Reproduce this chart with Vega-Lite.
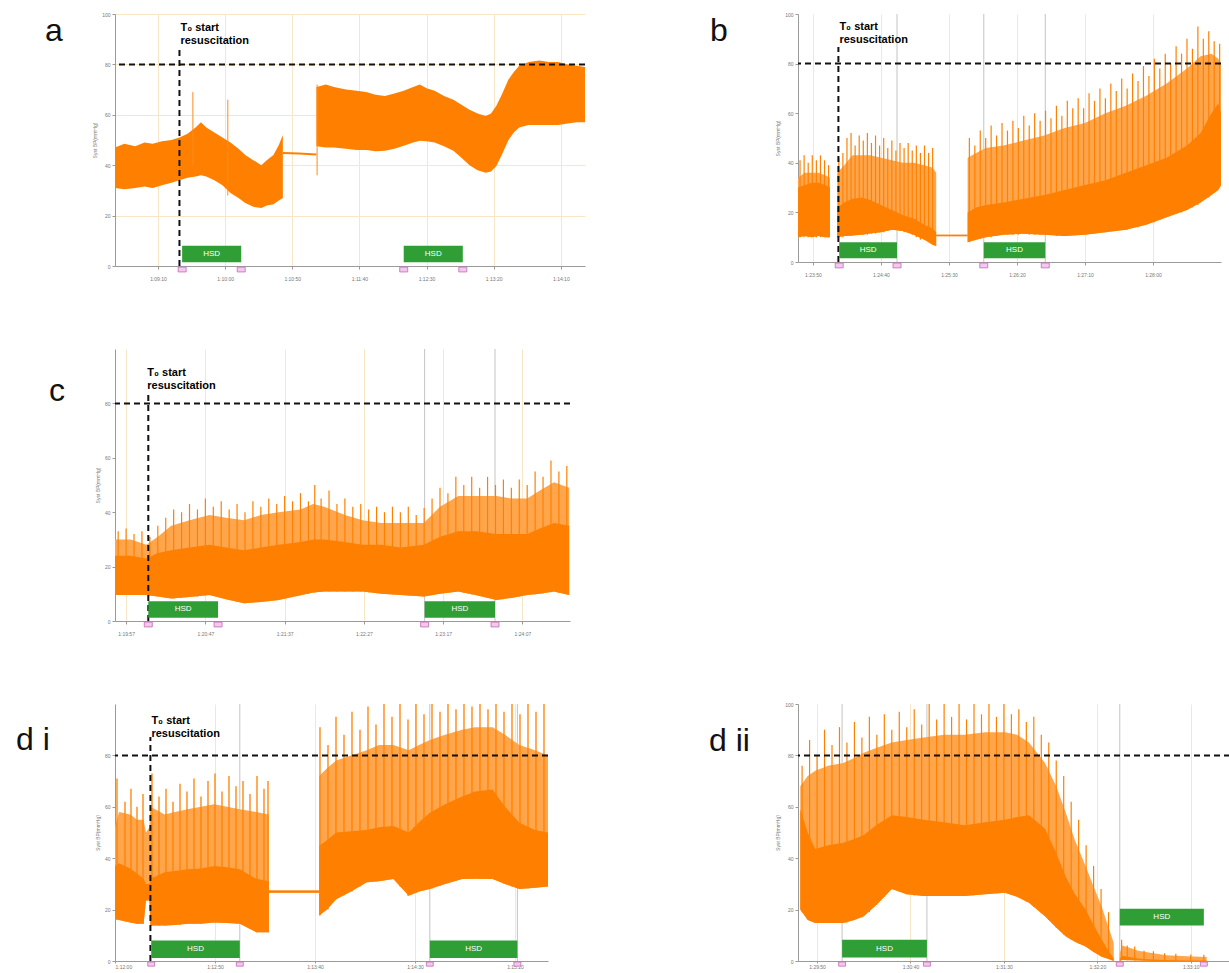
{
  "$schema": "https://vega.github.io/schema/vega-lite/v6.json",
  "background": "white",
  "padding": {"left": 16, "top": 12, "right": 0, "bottom": 0},
  "columns": 2,
  "spacing": {"row": 83, "column": 213},
  "align": "each",
  "bounds": "flush",
  "config": {
    "view": {"stroke": null},
    "font": "Liberation Sans",
    "axis": {
      "labelFont": "Liberation Sans", "labelFontSize": 5, "labelColor": "#777",
      "domainColor": "#9a9a9a", "tickColor": "#9a9a9a", "tickSize": 3,
      "gridColor": "#f9e6c6", "gridWidth": 1,
      "titleFont": "Liberation Sans", "titleFontSize": 5, "titleColor": "#777", "titleFontWeight": "normal"
    },
    "axisX": {"labelPadding": 7},
    "title": {"anchor": "start", "frame": "group", "orient": "top", "offset": 0,
      "fontSize": 32, "font": "Liberation Sans", "fontWeight": "normal", "color": "#111"}
  },
  "datasets": {
    "a_trace": [
      {"seg": "a1", "t": 4118, "lo": 31, "hi": 47},
      {"seg": "a1", "t": 4125, "lo": 30.5, "hi": 48.5},
      {"seg": "a1", "t": 4133, "lo": 31, "hi": 47.5},
      {"seg": "a1", "t": 4140, "lo": 31.5, "hi": 49},
      {"seg": "a1", "t": 4146, "lo": 31, "hi": 48.5},
      {"seg": "a1", "t": 4153, "lo": 32, "hi": 49.5},
      {"seg": "a1", "t": 4160, "lo": 33, "hi": 50},
      {"seg": "a1", "t": 4166, "lo": 34, "hi": 51},
      {"seg": "a1", "t": 4172, "lo": 35, "hi": 52.5},
      {"seg": "a1", "t": 4178, "lo": 35.5, "hi": 55},
      {"seg": "a1", "t": 4182, "lo": 36, "hi": 57},
      {"seg": "a1", "t": 4186, "lo": 35.5, "hi": 55},
      {"seg": "a1", "t": 4192, "lo": 34, "hi": 53},
      {"seg": "a1", "t": 4198, "lo": 32, "hi": 51},
      {"seg": "a1", "t": 4204, "lo": 29, "hi": 49},
      {"seg": "a1", "t": 4210, "lo": 27, "hi": 46.5},
      {"seg": "a1", "t": 4215, "lo": 25, "hi": 44},
      {"seg": "a1", "t": 4221, "lo": 23.5, "hi": 42},
      {"seg": "a1", "t": 4227, "lo": 23, "hi": 40},
      {"seg": "a1", "t": 4231, "lo": 24, "hi": 42},
      {"seg": "a1", "t": 4236, "lo": 24.5, "hi": 44},
      {"seg": "a1", "t": 4240, "lo": 26, "hi": 48},
      {"seg": "a1", "t": 4243, "lo": 27, "hi": 52},
      {"seg": "a2", "t": 4243, "lo": 44.4, "hi": 45.2},
      {"seg": "a2", "t": 4255, "lo": 44.2, "hi": 45},
      {"seg": "a2", "t": 4268, "lo": 43.8, "hi": 44.6},
      {"seg": "a3", "t": 4268, "lo": 47.5, "hi": 71},
      {"seg": "a3", "t": 4275, "lo": 47, "hi": 72},
      {"seg": "a3", "t": 4281, "lo": 47, "hi": 71},
      {"seg": "a3", "t": 4290, "lo": 46.5, "hi": 70},
      {"seg": "a3", "t": 4298, "lo": 46, "hi": 69.5},
      {"seg": "a3", "t": 4305, "lo": 46, "hi": 69},
      {"seg": "a3", "t": 4312, "lo": 45.5, "hi": 68},
      {"seg": "a3", "t": 4319, "lo": 45.7, "hi": 67.5},
      {"seg": "a3", "t": 4326, "lo": 46.5, "hi": 68.5},
      {"seg": "a3", "t": 4333, "lo": 47.7, "hi": 69.5},
      {"seg": "a3", "t": 4340, "lo": 49, "hi": 71},
      {"seg": "a3", "t": 4345, "lo": 49.7, "hi": 72},
      {"seg": "a3", "t": 4350, "lo": 49.5, "hi": 70.5},
      {"seg": "a3", "t": 4356, "lo": 49, "hi": 69.5},
      {"seg": "a3", "t": 4363, "lo": 47.5, "hi": 67.5},
      {"seg": "a3", "t": 4370, "lo": 45.7, "hi": 66},
      {"seg": "a3", "t": 4376, "lo": 43, "hi": 64},
      {"seg": "a3", "t": 4382, "lo": 40, "hi": 62},
      {"seg": "a3", "t": 4388, "lo": 38, "hi": 60.5},
      {"seg": "a3", "t": 4394, "lo": 37, "hi": 59.5},
      {"seg": "a3", "t": 4398, "lo": 37.5, "hi": 60.5},
      {"seg": "a3", "t": 4402, "lo": 39.7, "hi": 63.6},
      {"seg": "a3", "t": 4406, "lo": 44, "hi": 68},
      {"seg": "a3", "t": 4411, "lo": 50, "hi": 74},
      {"seg": "a3", "t": 4415, "lo": 53, "hi": 77},
      {"seg": "a3", "t": 4419, "lo": 55, "hi": 79.5},
      {"seg": "a3", "t": 4426, "lo": 56, "hi": 81},
      {"seg": "a3", "t": 4434, "lo": 56, "hi": 81.5},
      {"seg": "a3", "t": 4441, "lo": 56, "hi": 81},
      {"seg": "a3", "t": 4448, "lo": 56, "hi": 81},
      {"seg": "a3", "t": 4455, "lo": 56.5, "hi": 80},
      {"seg": "a3", "t": 4462, "lo": 57, "hi": 79.5},
      {"seg": "a3", "t": 4468, "lo": 57, "hi": 79}
    ],
    "a_spikes": [
      {"t": 4176, "lo": 40, "hi": 69},
      {"t": 4202, "lo": 28, "hi": 66},
      {"t": 4268.5, "lo": 36, "hi": 72}
    ],
    "a_hsd": [
      {"start": 4168, "end": 4212, "label": "HSD"},
      {"start": 4333, "end": 4377, "label": "HSD"}
    ],
    "b_trace": [
      {"seg": "b1", "t": 5019, "lo": 10, "core": 30, "hi": 34},
      {"seg": "b1", "t": 5024, "lo": 10.5, "core": 31, "hi": 36},
      {"seg": "b1", "t": 5029, "lo": 10, "core": 32, "hi": 36},
      {"seg": "b1", "t": 5034, "lo": 10.5, "core": 32, "hi": 36},
      {"seg": "b1", "t": 5039, "lo": 10, "core": 31, "hi": 35},
      {"seg": "b1", "t": 5042.5, "lo": 10, "core": 30, "hi": 34},
      {"seg": "b2", "t": 5047.8, "lo": 10, "core": 22, "hi": 36},
      {"seg": "b2", "t": 5053, "lo": 10.5, "core": 24, "hi": 39},
      {"seg": "b2", "t": 5059, "lo": 10.7, "core": 25.5, "hi": 43},
      {"seg": "b2", "t": 5066, "lo": 11, "core": 26, "hi": 43},
      {"seg": "b2", "t": 5072, "lo": 11.5, "core": 25, "hi": 43},
      {"seg": "b2", "t": 5080, "lo": 12, "core": 23, "hi": 42},
      {"seg": "b2", "t": 5088, "lo": 13, "core": 21, "hi": 41},
      {"seg": "b2", "t": 5096, "lo": 12.5, "core": 19, "hi": 40},
      {"seg": "b2", "t": 5104, "lo": 11, "core": 17.5, "hi": 40},
      {"seg": "b2", "t": 5112, "lo": 9, "core": 15, "hi": 39},
      {"seg": "b2", "t": 5118, "lo": 7, "core": 13.5, "hi": 38},
      {"seg": "b2", "t": 5120.6, "lo": 6.5, "core": 12, "hi": 36},
      {"seg": "b3", "t": 5120.6, "lo": 10.4, "core": 11, "hi": 11},
      {"seg": "b3", "t": 5143.7, "lo": 10.4, "core": 11, "hi": 11},
      {"seg": "b4", "t": 5143.7, "lo": 8, "core": 20, "hi": 42},
      {"seg": "b4", "t": 5150, "lo": 9, "core": 22, "hi": 44},
      {"seg": "b4", "t": 5157, "lo": 10, "core": 23, "hi": 46},
      {"seg": "b4", "t": 5170, "lo": 11, "core": 24, "hi": 47},
      {"seg": "b4", "t": 5185, "lo": 11.4, "core": 25.5, "hi": 49},
      {"seg": "b4", "t": 5200, "lo": 11, "core": 27, "hi": 51},
      {"seg": "b4", "t": 5215, "lo": 10.5, "core": 29, "hi": 54},
      {"seg": "b4", "t": 5230, "lo": 11, "core": 31, "hi": 56},
      {"seg": "b4", "t": 5245, "lo": 12, "core": 33, "hi": 60},
      {"seg": "b4", "t": 5260, "lo": 13, "core": 36, "hi": 63},
      {"seg": "b4", "t": 5275, "lo": 15, "core": 39, "hi": 67},
      {"seg": "b4", "t": 5290, "lo": 18, "core": 42, "hi": 72},
      {"seg": "b4", "t": 5305, "lo": 21, "core": 47, "hi": 78},
      {"seg": "b4", "t": 5315, "lo": 24, "core": 52, "hi": 83},
      {"seg": "b4", "t": 5323, "lo": 27, "core": 60, "hi": 84},
      {"seg": "b4", "t": 5328, "lo": 29, "core": 64, "hi": 82},
      {"seg": "b4", "t": 5330, "lo": 31, "core": 60, "hi": 80}
    ],
    "b_spikes": [
      {"t": 5020.5, "lo": 10, "hi": 41}, {"t": 5023.5, "lo": 10, "hi": 43}, {"t": 5026.5, "lo": 10, "hi": 40},
      {"t": 5029.5, "lo": 10, "hi": 43}, {"t": 5032.5, "lo": 10, "hi": 41}, {"t": 5035.5, "lo": 10, "hi": 43},
      {"t": 5038.5, "lo": 10, "hi": 41}, {"t": 5041.5, "lo": 10, "hi": 39},
      {"t": 5049, "lo": 10, "hi": 42}, {"t": 5052, "lo": 10, "hi": 44}, {"t": 5055, "lo": 10.5, "hi": 50},
      {"t": 5058, "lo": 10.5, "hi": 52}, {"t": 5061, "lo": 11, "hi": 47}, {"t": 5064, "lo": 11, "hi": 51},
      {"t": 5067, "lo": 11, "hi": 49}, {"t": 5070, "lo": 11, "hi": 52}, {"t": 5073, "lo": 11.5, "hi": 48},
      {"t": 5076, "lo": 11.5, "hi": 51}, {"t": 5079, "lo": 12, "hi": 47}, {"t": 5082, "lo": 12, "hi": 50},
      {"t": 5085, "lo": 12.5, "hi": 46}, {"t": 5088, "lo": 13, "hi": 49}, {"t": 5091, "lo": 13, "hi": 45},
      {"t": 5094, "lo": 12.5, "hi": 48}, {"t": 5097, "lo": 12, "hi": 46}, {"t": 5100, "lo": 12, "hi": 48},
      {"t": 5103, "lo": 11, "hi": 45}, {"t": 5106, "lo": 10, "hi": 47}, {"t": 5109, "lo": 9, "hi": 44},
      {"t": 5112, "lo": 9, "hi": 47}, {"t": 5115, "lo": 8, "hi": 44}, {"t": 5118, "lo": 7, "hi": 46},
      {"t": 5145, "lo": 8, "hi": 50}, {"t": 5149, "lo": 9, "hi": 47}, {"t": 5153, "lo": 9.5, "hi": 53},
      {"t": 5157, "lo": 10, "hi": 50}, {"t": 5161, "lo": 10, "hi": 55}, {"t": 5165, "lo": 10.5, "hi": 51},
      {"t": 5169, "lo": 11, "hi": 56}, {"t": 5173, "lo": 11, "hi": 53}, {"t": 5177, "lo": 11, "hi": 57},
      {"t": 5181, "lo": 11, "hi": 54}, {"t": 5185, "lo": 11.4, "hi": 59}, {"t": 5189, "lo": 11, "hi": 55},
      {"t": 5193, "lo": 11, "hi": 60}, {"t": 5197, "lo": 11, "hi": 57}, {"t": 5201, "lo": 11, "hi": 61},
      {"t": 5205, "lo": 11, "hi": 58}, {"t": 5209, "lo": 10.5, "hi": 63}, {"t": 5213, "lo": 10.5, "hi": 59},
      {"t": 5217, "lo": 10.5, "hi": 65}, {"t": 5221, "lo": 11, "hi": 62}, {"t": 5225, "lo": 11, "hi": 66},
      {"t": 5229, "lo": 11, "hi": 62}, {"t": 5233, "lo": 11.5, "hi": 68}, {"t": 5237, "lo": 11.5, "hi": 65},
      {"t": 5241, "lo": 12, "hi": 70}, {"t": 5245, "lo": 12, "hi": 66}, {"t": 5249, "lo": 12.5, "hi": 72},
      {"t": 5253, "lo": 12.5, "hi": 69}, {"t": 5257, "lo": 13, "hi": 74}, {"t": 5261, "lo": 13, "hi": 70},
      {"t": 5265, "lo": 14, "hi": 76}, {"t": 5269, "lo": 14, "hi": 73}, {"t": 5273, "lo": 15, "hi": 79},
      {"t": 5277, "lo": 15.5, "hi": 75}, {"t": 5281, "lo": 16, "hi": 82}, {"t": 5285, "lo": 17, "hi": 78},
      {"t": 5289, "lo": 18, "hi": 84}, {"t": 5293, "lo": 19, "hi": 80}, {"t": 5297, "lo": 20, "hi": 87},
      {"t": 5301, "lo": 20, "hi": 84}, {"t": 5305, "lo": 21, "hi": 90}, {"t": 5309, "lo": 22, "hi": 86},
      {"t": 5313, "lo": 23, "hi": 95}, {"t": 5317, "lo": 25, "hi": 90}, {"t": 5321, "lo": 26, "hi": 93},
      {"t": 5325, "lo": 28, "hi": 89}, {"t": 5329, "lo": 30, "hi": 88}
    ],
    "b_hsd": [
      {"start": 5049.3, "end": 5091.8, "label": "HSD"},
      {"start": 5155.6, "end": 5200.8, "label": "HSD"}
    ],
    "c_trace": [
      {"seg": "c1", "t": 4790, "lo": 9.6, "core": 24, "hi": 30},
      {"seg": "c1", "t": 4800, "lo": 9.6, "core": 24, "hi": 30},
      {"seg": "c1", "t": 4809.8, "lo": 9.6, "core": 23, "hi": 28},
      {"seg": "c1", "t": 4817, "lo": 9, "core": 25, "hi": 31},
      {"seg": "c1", "t": 4825.5, "lo": 8.3, "core": 26, "hi": 35},
      {"seg": "c1", "t": 4837, "lo": 8.8, "core": 27, "hi": 37},
      {"seg": "c1", "t": 4849.6, "lo": 9.6, "core": 28, "hi": 39},
      {"seg": "c1", "t": 4860, "lo": 8, "core": 27, "hi": 38},
      {"seg": "c1", "t": 4871.4, "lo": 6.5, "core": 26, "hi": 37},
      {"seg": "c1", "t": 4882, "lo": 7, "core": 27, "hi": 39},
      {"seg": "c1", "t": 4893.1, "lo": 7.7, "core": 28, "hi": 40},
      {"seg": "c1", "t": 4907, "lo": 9.5, "core": 29, "hi": 41},
      {"seg": "c1", "t": 4915, "lo": 10.5, "core": 30, "hi": 43},
      {"seg": "c1", "t": 4922, "lo": 10.8, "core": 30, "hi": 42},
      {"seg": "c1", "t": 4935, "lo": 10.8, "core": 29, "hi": 39},
      {"seg": "c1", "t": 4946.2, "lo": 10.8, "core": 28, "hi": 37},
      {"seg": "c1", "t": 4958, "lo": 10, "core": 28, "hi": 36},
      {"seg": "c1", "t": 4970.3, "lo": 9.6, "core": 27, "hi": 36},
      {"seg": "c1", "t": 4984.8, "lo": 9, "core": 28, "hi": 36},
      {"seg": "c1", "t": 4995, "lo": 10, "core": 31, "hi": 42},
      {"seg": "c1", "t": 5006.5, "lo": 10.8, "core": 33, "hi": 46},
      {"seg": "c1", "t": 5018, "lo": 9.5, "core": 33, "hi": 46},
      {"seg": "c1", "t": 5030.7, "lo": 7.7, "core": 32, "hi": 46},
      {"seg": "c1", "t": 5040, "lo": 8.5, "core": 32, "hi": 45},
      {"seg": "c1", "t": 5050, "lo": 9.6, "core": 32, "hi": 45},
      {"seg": "c1", "t": 5058, "lo": 10, "core": 34, "hi": 48},
      {"seg": "c1", "t": 5066.9, "lo": 10.8, "core": 36, "hi": 51},
      {"seg": "c1", "t": 5076.5, "lo": 9.6, "core": 35, "hi": 49}
    ],
    "c_spikes": [
      {"t": 4792, "lo": 9.6, "hi": 33}, {"t": 4797, "lo": 9.6, "hi": 34}, {"t": 4802, "lo": 9.6, "hi": 32},
      {"t": 4807, "lo": 9.6, "hi": 33}, {"t": 4812, "lo": 9.4, "hi": 31}, {"t": 4817, "lo": 9, "hi": 35},
      {"t": 4822, "lo": 8.6, "hi": 38}, {"t": 4827, "lo": 8.3, "hi": 41}, {"t": 4832, "lo": 8.5, "hi": 40},
      {"t": 4837, "lo": 8.8, "hi": 43}, {"t": 4842, "lo": 9, "hi": 41}, {"t": 4847, "lo": 9.4, "hi": 45},
      {"t": 4852, "lo": 9.3, "hi": 42}, {"t": 4857, "lo": 8.5, "hi": 44}, {"t": 4862, "lo": 7.8, "hi": 41},
      {"t": 4867, "lo": 7, "hi": 43}, {"t": 4872, "lo": 6.5, "hi": 40}, {"t": 4877, "lo": 6.8, "hi": 44},
      {"t": 4882, "lo": 7, "hi": 42}, {"t": 4887, "lo": 7.3, "hi": 45}, {"t": 4892, "lo": 7.6, "hi": 43},
      {"t": 4897, "lo": 8.2, "hi": 46}, {"t": 4902, "lo": 8.8, "hi": 44}, {"t": 4907, "lo": 9.5, "hi": 47},
      {"t": 4912, "lo": 10, "hi": 44}, {"t": 4916, "lo": 10.5, "hi": 50}, {"t": 4920, "lo": 10.7, "hi": 45},
      {"t": 4925, "lo": 10.8, "hi": 48}, {"t": 4930, "lo": 10.8, "hi": 43}, {"t": 4935, "lo": 10.8, "hi": 45},
      {"t": 4940, "lo": 10.8, "hi": 42}, {"t": 4945, "lo": 10.8, "hi": 43}, {"t": 4950, "lo": 10.6, "hi": 41},
      {"t": 4955, "lo": 10.3, "hi": 42}, {"t": 4960, "lo": 10, "hi": 40}, {"t": 4965, "lo": 9.8, "hi": 42},
      {"t": 4970, "lo": 9.6, "hi": 40}, {"t": 4975, "lo": 9.4, "hi": 42}, {"t": 4980, "lo": 9.2, "hi": 39},
      {"t": 4985, "lo": 9, "hi": 41.5}, {"t": 4990, "lo": 9.5, "hi": 45}, {"t": 4995, "lo": 10, "hi": 49},
      {"t": 5000, "lo": 10.4, "hi": 47}, {"t": 5005, "lo": 10.8, "hi": 53}, {"t": 5010, "lo": 10.4, "hi": 50},
      {"t": 5015, "lo": 9.8, "hi": 53}, {"t": 5020, "lo": 9.2, "hi": 49}, {"t": 5025, "lo": 8.5, "hi": 53},
      {"t": 5030, "lo": 7.8, "hi": 50}, {"t": 5035, "lo": 8, "hi": 52}, {"t": 5040, "lo": 8.5, "hi": 49},
      {"t": 5045, "lo": 9, "hi": 52}, {"t": 5050, "lo": 9.6, "hi": 50}, {"t": 5055, "lo": 9.8, "hi": 55},
      {"t": 5060, "lo": 10.2, "hi": 53}, {"t": 5065, "lo": 10.6, "hi": 59}, {"t": 5070, "lo": 10.3, "hi": 55},
      {"t": 5075, "lo": 9.8, "hi": 57}
    ],
    "c_hsd": [
      {"start": 4811, "end": 4855, "label": "HSD"},
      {"start": 4985.3, "end": 5029.7, "label": "HSD"}
    ],
    "di_trace": [
      {"seg": "d1", "t": 4320, "lo": 16.4, "core": 37, "hi": 52},
      {"seg": "d1", "t": 4322, "lo": 16, "core": 38, "hi": 58},
      {"seg": "d1", "t": 4327.6, "lo": 15, "core": 36, "hi": 57},
      {"seg": "d1", "t": 4331, "lo": 14.5, "core": 34, "hi": 55},
      {"seg": "d1", "t": 4334.3, "lo": 14.5, "core": 32, "hi": 55},
      {"seg": "d1", "t": 4335.5, "lo": 23.5, "core": 30, "hi": 50},
      {"seg": "d1", "t": 4337.2, "lo": 23.5, "core": 30, "hi": 52},
      {"seg": "d1", "t": 4337.7, "lo": 13.8, "core": 32, "hi": 60},
      {"seg": "d1", "t": 4344.8, "lo": 13.8, "core": 34.5, "hi": 57},
      {"seg": "d1", "t": 4350, "lo": 14, "core": 35, "hi": 58},
      {"seg": "d1", "t": 4356.2, "lo": 14.5, "core": 35.7, "hi": 59},
      {"seg": "d1", "t": 4363, "lo": 14.5, "core": 36, "hi": 60},
      {"seg": "d1", "t": 4369.6, "lo": 15, "core": 37, "hi": 61},
      {"seg": "d1", "t": 4376, "lo": 14.8, "core": 36.5, "hi": 60},
      {"seg": "d1", "t": 4382.4, "lo": 14.5, "core": 35.7, "hi": 59},
      {"seg": "d1", "t": 4390.6, "lo": 11.2, "core": 32, "hi": 58},
      {"seg": "d1", "t": 4396.9, "lo": 11.2, "core": 31, "hi": 57},
      {"seg": "d2", "t": 4396.9, "lo": 26.6, "core": 27.4, "hi": 27.4},
      {"seg": "d2", "t": 4422.1, "lo": 26.6, "core": 27.4, "hi": 27.4},
      {"seg": "d3", "t": 4422.1, "lo": 17.7, "core": 44.8, "hi": 72},
      {"seg": "d3", "t": 4426, "lo": 20, "core": 47, "hi": 75},
      {"seg": "d3", "t": 4430.6, "lo": 24, "core": 50, "hi": 78},
      {"seg": "d3", "t": 4438, "lo": 27, "core": 50.5, "hi": 80},
      {"seg": "d3", "t": 4445.9, "lo": 30.6, "core": 51, "hi": 82},
      {"seg": "d3", "t": 4452, "lo": 31, "core": 52, "hi": 84},
      {"seg": "d3", "t": 4459.2, "lo": 31.9, "core": 52.5, "hi": 84},
      {"seg": "d3", "t": 4466.9, "lo": 25.4, "core": 50, "hi": 82},
      {"seg": "d3", "t": 4472, "lo": 27, "core": 54, "hi": 84},
      {"seg": "d3", "t": 4477.4, "lo": 28, "core": 57.7, "hi": 86},
      {"seg": "d3", "t": 4485, "lo": 30, "core": 61, "hi": 88},
      {"seg": "d3", "t": 4493.6, "lo": 31.9, "core": 64, "hi": 90},
      {"seg": "d3", "t": 4500, "lo": 32, "core": 66, "hi": 91},
      {"seg": "d3", "t": 4508.8, "lo": 31.9, "core": 66.7, "hi": 91},
      {"seg": "d3", "t": 4515, "lo": 30, "core": 60, "hi": 88},
      {"seg": "d3", "t": 4522.2, "lo": 28, "core": 53.8, "hi": 84},
      {"seg": "d3", "t": 4530, "lo": 28.5, "core": 51, "hi": 82},
      {"seg": "d3", "t": 4536.5, "lo": 29, "core": 50, "hi": 80}
    ],
    "di_spikes": [
      {"t": 4321, "lo": 16, "hi": 71}, {"t": 4325, "lo": 15.5, "hi": 62}, {"t": 4328, "lo": 15, "hi": 67},
      {"t": 4331, "lo": 14.5, "hi": 60}, {"t": 4334, "lo": 14.5, "hi": 65}, {"t": 4338.5, "lo": 13.8, "hi": 73},
      {"t": 4342, "lo": 13.8, "hi": 64}, {"t": 4345.5, "lo": 13.8, "hi": 67}, {"t": 4349, "lo": 14, "hi": 62},
      {"t": 4352.5, "lo": 14, "hi": 69}, {"t": 4356, "lo": 14.5, "hi": 66}, {"t": 4359.5, "lo": 14.5, "hi": 71},
      {"t": 4363, "lo": 14.5, "hi": 64}, {"t": 4366.5, "lo": 14.8, "hi": 70}, {"t": 4370, "lo": 15, "hi": 73},
      {"t": 4373.5, "lo": 15, "hi": 66}, {"t": 4377, "lo": 14.8, "hi": 72}, {"t": 4380.5, "lo": 14.6, "hi": 68},
      {"t": 4384, "lo": 14, "hi": 70}, {"t": 4387.5, "lo": 12.5, "hi": 65}, {"t": 4391, "lo": 11.2, "hi": 72},
      {"t": 4394.5, "lo": 11.2, "hi": 67}, {"t": 4396.5, "lo": 11.2, "hi": 70},
      {"t": 4422.5, "lo": 17.7, "hi": 91}, {"t": 4426.5, "lo": 20, "hi": 84}, {"t": 4430.5, "lo": 24, "hi": 95},
      {"t": 4434.5, "lo": 25.5, "hi": 88}, {"t": 4438.5, "lo": 27, "hi": 97}, {"t": 4442.5, "lo": 29, "hi": 90},
      {"t": 4446.5, "lo": 30.6, "hi": 99}, {"t": 4450.5, "lo": 31, "hi": 92}, {"t": 4454.5, "lo": 31.5, "hi": 100},
      {"t": 4458.5, "lo": 31.9, "hi": 95}, {"t": 4462.5, "lo": 29, "hi": 100}, {"t": 4466.5, "lo": 25.4, "hi": 94},
      {"t": 4470.5, "lo": 26.5, "hi": 100}, {"t": 4474.5, "lo": 27.5, "hi": 96}, {"t": 4478.5, "lo": 28.2, "hi": 100},
      {"t": 4482.5, "lo": 29.3, "hi": 97}, {"t": 4486.5, "lo": 30.3, "hi": 100}, {"t": 4490.5, "lo": 31.2, "hi": 98},
      {"t": 4494.5, "lo": 31.9, "hi": 100}, {"t": 4498.5, "lo": 32, "hi": 99}, {"t": 4502.5, "lo": 32, "hi": 100},
      {"t": 4506.5, "lo": 32, "hi": 98}, {"t": 4510.5, "lo": 31.5, "hi": 100}, {"t": 4514.5, "lo": 30.2, "hi": 97},
      {"t": 4518.5, "lo": 29, "hi": 100}, {"t": 4522.5, "lo": 28, "hi": 96}, {"t": 4526.5, "lo": 28.2, "hi": 100},
      {"t": 4530.5, "lo": 28.5, "hi": 97}, {"t": 4534.5, "lo": 28.8, "hi": 100}
    ],
    "di_hsd": [
      {"start": 4338.1, "end": 4382.4, "label": "HSD"},
      {"start": 4477.4, "end": 4521.2, "label": "HSD"}
    ],
    "dii_trace": [
      {"seg": "e1", "t": 5381, "lo": 20, "core": 59, "hi": 68},
      {"seg": "e1", "t": 5385, "lo": 16, "core": 50, "hi": 72},
      {"seg": "e1", "t": 5389, "lo": 14.8, "core": 43.6, "hi": 74},
      {"seg": "e1", "t": 5396, "lo": 14.8, "core": 45, "hi": 76},
      {"seg": "e1", "t": 5404, "lo": 14.8, "core": 46, "hi": 77},
      {"seg": "e1", "t": 5410, "lo": 16, "core": 47.5, "hi": 79},
      {"seg": "e1", "t": 5415, "lo": 17.4, "core": 49, "hi": 81},
      {"seg": "e1", "t": 5422, "lo": 22, "core": 53, "hi": 83},
      {"seg": "e1", "t": 5430, "lo": 28, "core": 56.7, "hi": 85},
      {"seg": "e1", "t": 5438, "lo": 26, "core": 56, "hi": 86},
      {"seg": "e1", "t": 5447, "lo": 25.3, "core": 55, "hi": 87},
      {"seg": "e1", "t": 5458, "lo": 25.3, "core": 54, "hi": 88},
      {"seg": "e1", "t": 5469, "lo": 25.3, "core": 52.8, "hi": 88},
      {"seg": "e1", "t": 5480, "lo": 26, "core": 54, "hi": 89},
      {"seg": "e1", "t": 5490.5, "lo": 26.6, "core": 55, "hi": 89},
      {"seg": "e1", "t": 5497, "lo": 25, "core": 56, "hi": 88},
      {"seg": "e1", "t": 5503.4, "lo": 22.7, "core": 56.7, "hi": 85},
      {"seg": "e1", "t": 5512, "lo": 17.4, "core": 51.5, "hi": 77},
      {"seg": "e1", "t": 5518, "lo": 13, "core": 42, "hi": 68},
      {"seg": "e1", "t": 5523, "lo": 9.6, "core": 33, "hi": 58},
      {"seg": "e1", "t": 5528, "lo": 7.5, "core": 26, "hi": 47},
      {"seg": "e1", "t": 5533.7, "lo": 5.6, "core": 20, "hi": 37},
      {"seg": "e1", "t": 5538, "lo": 3.5, "core": 14, "hi": 29},
      {"seg": "e1", "t": 5542.4, "lo": 1.7, "core": 8.3, "hi": 21},
      {"seg": "e1", "t": 5546, "lo": 0.8, "core": 4, "hi": 13},
      {"seg": "e1", "t": 5548.8, "lo": 0, "core": 1, "hi": 7},
      {"seg": "e2", "t": 5552, "lo": 0, "core": 1, "hi": 3},
      {"seg": "e2", "t": 5553.2, "lo": 0.4, "core": 2, "hi": 6},
      {"seg": "e2", "t": 5558, "lo": 0.3, "core": 1.5, "hi": 5},
      {"seg": "e2", "t": 5561.8, "lo": 0.2, "core": 1, "hi": 4},
      {"seg": "e2", "t": 5570, "lo": 0, "core": 0.6, "hi": 3},
      {"seg": "e2", "t": 5576.9, "lo": 0, "core": 0.4, "hi": 2.2},
      {"seg": "e2", "t": 5588, "lo": 0, "core": 0.2, "hi": 1.8},
      {"seg": "e2", "t": 5598.5, "lo": 0, "core": 0.2, "hi": 1.6}
    ],
    "dii_spikes": [
      {"t": 5382, "lo": 19, "hi": 76}, {"t": 5386, "lo": 16, "hi": 86}, {"t": 5390, "lo": 14.8, "hi": 80},
      {"t": 5394, "lo": 14.8, "hi": 90}, {"t": 5398, "lo": 14.8, "hi": 84}, {"t": 5402, "lo": 14.8, "hi": 91},
      {"t": 5406, "lo": 15, "hi": 85}, {"t": 5410, "lo": 16, "hi": 93}, {"t": 5414, "lo": 17, "hi": 87},
      {"t": 5418, "lo": 19, "hi": 95}, {"t": 5422, "lo": 22, "hi": 88}, {"t": 5426, "lo": 25, "hi": 96},
      {"t": 5430, "lo": 28, "hi": 90}, {"t": 5434, "lo": 27, "hi": 97}, {"t": 5438, "lo": 26, "hi": 91},
      {"t": 5442, "lo": 25.5, "hi": 98}, {"t": 5446, "lo": 25.3, "hi": 92}, {"t": 5450, "lo": 25.3, "hi": 100},
      {"t": 5454, "lo": 25.3, "hi": 94}, {"t": 5458, "lo": 25.3, "hi": 100}, {"t": 5462, "lo": 25.3, "hi": 95},
      {"t": 5466, "lo": 25.3, "hi": 100}, {"t": 5470, "lo": 25.3, "hi": 94}, {"t": 5474, "lo": 25.6, "hi": 100},
      {"t": 5478, "lo": 25.9, "hi": 96}, {"t": 5482, "lo": 26.2, "hi": 100}, {"t": 5486, "lo": 26.4, "hi": 95},
      {"t": 5490, "lo": 26.6, "hi": 100}, {"t": 5494, "lo": 25.8, "hi": 96}, {"t": 5498, "lo": 24.8, "hi": 98},
      {"t": 5502, "lo": 23.2, "hi": 93}, {"t": 5506, "lo": 21, "hi": 95}, {"t": 5510, "lo": 18.6, "hi": 88},
      {"t": 5514, "lo": 16, "hi": 85}, {"t": 5518, "lo": 13, "hi": 78}, {"t": 5522, "lo": 10.3, "hi": 72},
      {"t": 5526, "lo": 8.4, "hi": 62}, {"t": 5530, "lo": 6.8, "hi": 55}, {"t": 5534, "lo": 5.5, "hi": 45},
      {"t": 5538, "lo": 3.5, "hi": 37}, {"t": 5542, "lo": 1.8, "hi": 28}, {"t": 5546, "lo": 0.8, "hi": 19},
      {"t": 5553, "lo": 0.4, "hi": 8.3}, {"t": 5556, "lo": 0.3, "hi": 6}, {"t": 5560, "lo": 0.2, "hi": 5.6},
      {"t": 5565, "lo": 0.1, "hi": 4}, {"t": 5570, "lo": 0, "hi": 3.8}, {"t": 5576, "lo": 0, "hi": 3},
      {"t": 5582, "lo": 0, "hi": 2.8}, {"t": 5590, "lo": 0, "hi": 2.5}, {"t": 5597, "lo": 0, "hi": 2.4}
    ],
    "dii_hsd": [
      {"start": 5403.4, "end": 5448.8, "label": "HSD", "n": 1},
      {"start": 5552, "end": 5597, "label": "HSD", "n": 2}
    ]
  },
  "concat": [
    {
      "width": 470, "height": 252,
      "title": {"text": "a", "dx": -70, "dy": 40},
      "layer": [
        {"data": {"name": "a_trace"}, "mark": {"type": "area", "color": "#ff8000"},
          "encoding": {
            "x": {"field": "t", "type": "quantitative", "scale": {"domain": [4118, 4468], "nice": false, "zero": false},
              "axis": {"title": null, "values": [4150, 4200, 4250, 4300, 4350, 4400, 4450], "labelExpr": "utcFormat(datum.value*1000, '%-H:%M:%S')"}},
            "y": {"field": "lo", "type": "quantitative", "scale": {"domain": [0, 100], "nice": false},
              "axis": {"title": "Syst BP(mmHg)", "values": [0, 20, 40, 60, 80, 100]}},
            "y2": {"field": "hi"}, "detail": {"field": "seg"}}},
        {"data": {"name": "a_spikes"}, "mark": {"type": "rule", "color": "#ff8a1a", "strokeWidth": 1},
          "encoding": {"x": {"field": "t", "type": "quantitative"}, "y": {"field": "lo", "type": "quantitative"}, "y2": {"field": "hi"}}},
        {"data": {"values": [{}]}, "mark": {"type": "rule", "strokeDash": [6, 4], "strokeWidth": 2, "color": "#111"},
          "encoding": {"y": {"datum": 80}}},
        {"data": {"values": [{}]}, "mark": {"type": "rule", "strokeDash": [6, 4], "strokeWidth": 2, "color": "#111"},
          "encoding": {"x": {"datum": 4166}, "y": {"datum": 0}, "y2": {"datum": 87}}},
        {"data": {"values": [{"note": "T₀ start\nresuscitation"}]},
          "mark": {"type": "text", "align": "left", "baseline": "top", "fontSize": 11, "fontWeight": "bold", "lineBreak": "\n", "lineHeight": 13, "dx": 1, "color": "#000"},
          "encoding": {"x": {"datum": 4166}, "y": {"datum": 97}, "text": {"field": "note"}}},
        {"data": {"name": "a_hsd"}, "mark": {"type": "rect", "color": "#2f9e35"},
          "encoding": {"x": {"field": "start", "type": "quantitative"}, "x2": {"field": "end"}, "y": {"datum": 1.5}, "y2": {"datum": 8}}},
        {"data": {"name": "a_hsd"}, "transform": [{"calculate": "(datum.start + datum.end) / 2", "as": "mid"}],
          "mark": {"type": "text", "color": "white", "fontSize": 8},
          "encoding": {"x": {"field": "mid", "type": "quantitative"}, "y": {"datum": 4.75}, "text": {"field": "label"}}},
        {"data": {"name": "a_hsd"}, "transform": [{"fold": ["start", "end"], "as": ["edge", "tm"]}],
          "mark": {"type": "point", "shape": "M-1,-0.6L1,-0.6L1,0.6L-1,0.6Z", "filled": true, "fill": "#f4c8ee", "stroke": "#c46ab6", "strokeWidth": 0.8, "size": 64, "opacity": 1},
          "encoding": {"x": {"field": "tm", "type": "quantitative"}, "y": {"datum": -1.4}}}
      ]
    },
    {
      "width": 423, "height": 248,
      "title": {"text": "b", "dx": -88, "dy": 40},
      "layer": [
        {"data": {"name": "b_hsd"}, "transform": [{"fold": ["start", "end"], "as": ["edge", "tm"]}, {"filter": "datum.tm > 5050"}],
          "mark": {"type": "rule", "color": "#c4c4c4", "strokeWidth": 1},
          "encoding": {"x": {"field": "tm", "type": "quantitative", "scale": {"domain": [5019, 5330], "nice": false, "zero": false},
              "axis": {"title": null, "values": [5030, 5080, 5130, 5180, 5230, 5280], "labelExpr": "utcFormat(datum.value*1000, '%-H:%M:%S')"}},
            "y": {"datum": 0, "type": "quantitative", "scale": {"domain": [0, 100], "nice": false},
              "axis": {"title": "Syst BP(mmHg)", "values": [0, 20, 40, 60, 80, 100]}},
            "y2": {"datum": 100}}},
        {"data": {"name": "b_trace"}, "mark": {"type": "area", "color": "#ffa64d"},
          "encoding": {"x": {"field": "t", "type": "quantitative"}, "y": {"field": "lo", "type": "quantitative"}, "y2": {"field": "hi"}, "detail": {"field": "seg"}}},
        {"data": {"name": "b_spikes"}, "mark": {"type": "rule", "color": "#ff8000", "strokeWidth": 1.2},
          "encoding": {"x": {"field": "t", "type": "quantitative"}, "y": {"field": "lo", "type": "quantitative"}, "y2": {"field": "hi"}}},
        {"data": {"name": "b_trace"}, "mark": {"type": "area", "color": "#ff8000"},
          "encoding": {"x": {"field": "t", "type": "quantitative"}, "y": {"field": "lo", "type": "quantitative"}, "y2": {"field": "core"}, "detail": {"field": "seg"}}},
        {"data": {"values": [{}]}, "mark": {"type": "rule", "strokeDash": [6, 4], "strokeWidth": 2, "color": "#111"},
          "encoding": {"y": {"datum": 80}}},
        {"data": {"values": [{}]}, "mark": {"type": "rule", "strokeDash": [6, 4], "strokeWidth": 2, "color": "#111"},
          "encoding": {"x": {"datum": 5048.7}, "y": {"datum": 0}, "y2": {"datum": 86.7}}},
        {"data": {"values": [{"note": "T₀ start\nresuscitation"}]},
          "mark": {"type": "text", "align": "left", "baseline": "top", "fontSize": 11, "fontWeight": "bold", "lineBreak": "\n", "lineHeight": 13, "dx": 1, "color": "#000"},
          "encoding": {"x": {"datum": 5048.7}, "y": {"datum": 97}, "text": {"field": "note"}}},
        {"data": {"name": "b_hsd"}, "mark": {"type": "rect", "color": "#2f9e35"},
          "encoding": {"x": {"field": "start", "type": "quantitative"}, "x2": {"field": "end"}, "y": {"datum": 1.5}, "y2": {"datum": 8}}},
        {"data": {"name": "b_hsd"}, "transform": [{"calculate": "(datum.start + datum.end) / 2", "as": "mid"}],
          "mark": {"type": "text", "color": "white", "fontSize": 8},
          "encoding": {"x": {"field": "mid", "type": "quantitative"}, "y": {"datum": 4.75}, "text": {"field": "label"}}},
        {"data": {"name": "b_hsd"}, "transform": [{"fold": ["start", "end"], "as": ["edge", "tm"]}],
          "mark": {"type": "point", "shape": "M-1,-0.6L1,-0.6L1,0.6L-1,0.6Z", "filled": true, "fill": "#f4c8ee", "stroke": "#c46ab6", "strokeWidth": 0.8, "size": 64, "opacity": 1},
          "encoding": {"x": {"field": "tm", "type": "quantitative"}, "y": {"datum": -1.4}}}
      ]
    },
    {
      "width": 455, "height": 272,
      "title": {"text": "c", "dx": -66, "dy": 63},
      "layer": [
        {"data": {"name": "c_hsd"}, "transform": [{"fold": ["start", "end"], "as": ["edge", "tm"]}, {"filter": "datum.tm > 4900"}],
          "mark": {"type": "rule", "color": "#c4c4c4", "strokeWidth": 1},
          "encoding": {"x": {"field": "tm", "type": "quantitative", "scale": {"domain": [4790, 5077], "nice": false, "zero": false},
              "axis": {"title": null, "values": [4797, 4847, 4897, 4947, 4997, 5047], "labelExpr": "utcFormat(datum.value*1000, '%-H:%M:%S')"}},
            "y": {"datum": 0, "type": "quantitative", "scale": {"domain": [0, 100], "nice": false},
              "axis": {"title": "Syst BP(mmHg)", "values": [0, 20, 40, 60, 80]}},
            "y2": {"datum": 100}}},
        {"data": {"name": "c_trace"}, "mark": {"type": "area", "color": "#ffa64d"},
          "encoding": {"x": {"field": "t", "type": "quantitative"}, "y": {"field": "lo", "type": "quantitative"}, "y2": {"field": "hi"}, "detail": {"field": "seg"}}},
        {"data": {"name": "c_spikes"}, "mark": {"type": "rule", "color": "#ff8000", "strokeWidth": 1.2},
          "encoding": {"x": {"field": "t", "type": "quantitative"}, "y": {"field": "lo", "type": "quantitative"}, "y2": {"field": "hi"}}},
        {"data": {"name": "c_trace"}, "mark": {"type": "area", "color": "#ff8000"},
          "encoding": {"x": {"field": "t", "type": "quantitative"}, "y": {"field": "lo", "type": "quantitative"}, "y2": {"field": "core"}, "detail": {"field": "seg"}}},
        {"data": {"values": [{}]}, "mark": {"type": "rule", "strokeDash": [6, 4], "strokeWidth": 2, "color": "#111"},
          "encoding": {"y": {"datum": 80}}},
        {"data": {"values": [{}]}, "mark": {"type": "rule", "strokeDash": [6, 4], "strokeWidth": 2, "color": "#111"},
          "encoding": {"x": {"datum": 4811}, "y": {"datum": 0}, "y2": {"datum": 84.5}}},
        {"data": {"values": [{"note": "T₀ start\nresuscitation"}]},
          "mark": {"type": "text", "align": "left", "baseline": "top", "fontSize": 11, "fontWeight": "bold", "lineBreak": "\n", "lineHeight": 13, "dx": -1, "color": "#000"},
          "encoding": {"x": {"datum": 4811}, "y": {"datum": 93.4}, "text": {"field": "note"}}},
        {"data": {"name": "c_hsd"}, "mark": {"type": "rect", "color": "#2f9e35"},
          "encoding": {"x": {"field": "start", "type": "quantitative"}, "x2": {"field": "end"}, "y": {"datum": 1.2}, "y2": {"datum": 7.3}}},
        {"data": {"name": "c_hsd"}, "transform": [{"calculate": "(datum.start + datum.end) / 2", "as": "mid"}],
          "mark": {"type": "text", "color": "white", "fontSize": 8},
          "encoding": {"x": {"field": "mid", "type": "quantitative"}, "y": {"datum": 4.25}, "text": {"field": "label"}}},
        {"data": {"name": "c_hsd"}, "transform": [{"fold": ["start", "end"], "as": ["edge", "tm"]}],
          "mark": {"type": "point", "shape": "M-1,-0.6L1,-0.6L1,0.6L-1,0.6Z", "filled": true, "fill": "#f4c8ee", "stroke": "#c46ab6", "strokeWidth": 0.8, "size": 64, "opacity": 1},
          "encoding": {"x": {"field": "tm", "type": "quantitative"}, "y": {"datum": -1.3}}}
      ]
    },
    {
      "width": 1, "height": 1,
      "data": {"values": [{}]},
      "mark": {"type": "point", "opacity": 0}
    },
    {
      "width": 433, "height": 257,
      "title": {"text": "d i", "dx": -99, "dy": 58},
      "layer": [
        {"data": {"name": "di_hsd"}, "transform": [{"fold": ["start", "end"], "as": ["edge", "tm"]}, {"filter": "datum.tm > 4340"}],
          "mark": {"type": "rule", "color": "#c4c4c4", "strokeWidth": 1},
          "encoding": {"x": {"field": "tm", "type": "quantitative", "scale": {"domain": [4320, 4536.5], "nice": false, "zero": false},
              "axis": {"title": null, "values": [4320, 4370, 4420, 4470, 4520], "labelExpr": "utcFormat(datum.value*1000, '%-H:%M:%S')", "labelPadding": 1, "tickSize": 2}},
            "y": {"datum": 0, "type": "quantitative", "scale": {"domain": [0, 100], "nice": false},
              "axis": {"title": "Syst BP(mmHg)", "values": [0, 20, 40, 60, 80]}},
            "y2": {"datum": 100}}},
        {"data": {"name": "di_trace"}, "mark": {"type": "area", "color": "#ffa64d"},
          "encoding": {"x": {"field": "t", "type": "quantitative"}, "y": {"field": "lo", "type": "quantitative"}, "y2": {"field": "hi"}, "detail": {"field": "seg"}}},
        {"data": {"name": "di_spikes"}, "mark": {"type": "rule", "color": "#ff8000", "strokeWidth": 1.3},
          "encoding": {"x": {"field": "t", "type": "quantitative"}, "y": {"field": "lo", "type": "quantitative"}, "y2": {"field": "hi"}}},
        {"data": {"name": "di_trace"}, "mark": {"type": "area", "color": "#ff8000"},
          "encoding": {"x": {"field": "t", "type": "quantitative"}, "y": {"field": "lo", "type": "quantitative"}, "y2": {"field": "core"}, "detail": {"field": "seg"}}},
        {"data": {"values": [{}]}, "mark": {"type": "rule", "strokeDash": [6, 4], "strokeWidth": 2, "color": "#111"},
          "encoding": {"y": {"datum": 80}}},
        {"data": {"values": [{}]}, "mark": {"type": "rule", "strokeDash": [6, 4], "strokeWidth": 2, "color": "#111"},
          "encoding": {"x": {"datum": 4337.7}, "y": {"datum": 0}, "y2": {"datum": 87.2}}},
        {"data": {"values": [{"note": "T₀ start\nresuscitation"}]},
          "mark": {"type": "text", "align": "left", "baseline": "top", "fontSize": 11, "fontWeight": "bold", "lineBreak": "\n", "lineHeight": 13, "dx": 1, "color": "#000"},
          "encoding": {"x": {"datum": 4337.7}, "y": {"datum": 95.7}, "text": {"field": "note"}}},
        {"data": {"name": "di_hsd"}, "mark": {"type": "rect", "color": "#2f9e35"},
          "encoding": {"x": {"field": "start", "type": "quantitative"}, "x2": {"field": "end"}, "y": {"datum": 1.2}, "y2": {"datum": 8}}},
        {"data": {"name": "di_hsd"}, "transform": [{"calculate": "(datum.start + datum.end) / 2", "as": "mid"}],
          "mark": {"type": "text", "color": "white", "fontSize": 8},
          "encoding": {"x": {"field": "mid", "type": "quantitative"}, "y": {"datum": 4.6}, "text": {"field": "label"}}},
        {"data": {"name": "di_hsd"}, "transform": [{"fold": ["start", "end"], "as": ["edge", "tm"]}],
          "mark": {"type": "point", "shape": "M-1,-0.6L1,-0.6L1,0.6L-1,0.6Z", "filled": true, "fill": "#f4c8ee", "stroke": "#c46ab6", "strokeWidth": 0.8, "size": 48, "opacity": 1},
          "encoding": {"x": {"field": "tm", "type": "quantitative"}, "y": {"datum": -1.2}}}
      ]
    },
    {
      "width": 432, "height": 257,
      "title": {"text": "d ii", "dx": -89, "dy": 60},
      "layer": [
        {"data": {"name": "dii_hsd"}, "transform": [{"fold": ["start", "end"], "as": ["edge", "tm"]}, {"filter": "datum.tm < 5560"}],
          "mark": {"type": "rule", "color": "#c4c4c4", "strokeWidth": 1},
          "encoding": {"x": {"field": "tm", "type": "quantitative", "scale": {"domain": [5379.8, 5611], "nice": false, "zero": false},
              "axis": {"title": null, "values": [5390, 5440, 5490, 5540, 5590], "labelExpr": "utcFormat(datum.value*1000, '%-H:%M:%S')", "labelPadding": 1, "tickSize": 2}},
            "y": {"datum": 0, "type": "quantitative", "scale": {"domain": [0, 100], "nice": false},
              "axis": {"title": "Syst BP(mmHg)", "values": [0, 20, 40, 60, 80, 100]}},
            "y2": {"datum": 100}}},
        {"data": {"name": "dii_trace"}, "mark": {"type": "area", "color": "#ffa64d"},
          "encoding": {"x": {"field": "t", "type": "quantitative"}, "y": {"field": "lo", "type": "quantitative"}, "y2": {"field": "hi"}, "detail": {"field": "seg"}}},
        {"data": {"name": "dii_spikes"}, "mark": {"type": "rule", "color": "#ff8000", "strokeWidth": 1.2},
          "encoding": {"x": {"field": "t", "type": "quantitative"}, "y": {"field": "lo", "type": "quantitative"}, "y2": {"field": "hi"}}},
        {"data": {"name": "dii_trace"}, "mark": {"type": "area", "color": "#ff8000"},
          "encoding": {"x": {"field": "t", "type": "quantitative"}, "y": {"field": "lo", "type": "quantitative"}, "y2": {"field": "core"}, "detail": {"field": "seg"}}},
        {"data": {"values": [{}]}, "mark": {"type": "rule", "strokeDash": [6, 4], "strokeWidth": 2, "color": "#111"},
          "encoding": {"y": {"datum": 80}}},
        {"data": {"name": "dii_hsd"}, "transform": [{"filter": "datum.n == 1"}], "mark": {"type": "rect", "color": "#2f9e35"},
          "encoding": {"x": {"field": "start", "type": "quantitative"}, "x2": {"field": "end"}, "y": {"datum": 1.4}, "y2": {"datum": 8.3}}},
        {"data": {"name": "dii_hsd"}, "transform": [{"filter": "datum.n == 2"}], "mark": {"type": "rect", "color": "#2f9e35"},
          "encoding": {"x": {"field": "start", "type": "quantitative"}, "x2": {"field": "end"}, "y": {"datum": 13.8}, "y2": {"datum": 20.3}}},
        {"data": {"name": "dii_hsd"}, "transform": [{"filter": "datum.n == 1"}, {"calculate": "(datum.start + datum.end) / 2", "as": "mid"}],
          "mark": {"type": "text", "color": "white", "fontSize": 8},
          "encoding": {"x": {"field": "mid", "type": "quantitative"}, "y": {"datum": 4.85}, "text": {"field": "label"}}},
        {"data": {"name": "dii_hsd"}, "transform": [{"filter": "datum.n == 2"}, {"calculate": "(datum.start + datum.end) / 2", "as": "mid"}],
          "mark": {"type": "text", "color": "white", "fontSize": 8},
          "encoding": {"x": {"field": "mid", "type": "quantitative"}, "y": {"datum": 17}, "text": {"field": "label"}}},
        {"data": {"name": "dii_hsd"}, "transform": [{"fold": ["start", "end"], "as": ["edge", "tm"]}],
          "mark": {"type": "point", "shape": "M-1,-0.6L1,-0.6L1,0.6L-1,0.6Z", "filled": true, "fill": "#f4c8ee", "stroke": "#c46ab6", "strokeWidth": 0.8, "size": 48, "opacity": 1},
          "encoding": {"x": {"field": "tm", "type": "quantitative"}, "y": {"datum": -1.2}}}
      ]
    }
  ]
}
